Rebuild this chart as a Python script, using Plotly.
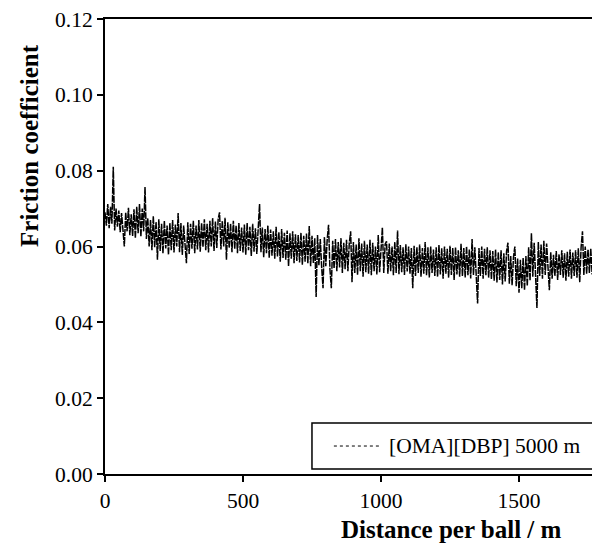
import plotly.graph_objects as go

# Sampling interval of the friction record (m)
step_m = 5

# Friction coefficient, in units of 1e-4, one value every 5 m
friction_e4 = [
    690, 655, 712, 648, 705, 660, 810, 642, 700, 652, 695, 638, 688, 645, 600, 690, 640, 702, 630, 685,
    628, 698, 622, 705, 635, 712, 626, 700, 640, 757, 620, 675, 600, 670, 590, 680, 598, 665, 565, 672,
    588, 660, 582, 668, 595, 655, 578, 662, 590, 670, 584, 658, 600, 688, 585, 662, 578, 655, 590, 556,
    664, 580, 660, 594, 668, 582, 655, 592, 670, 586, 662, 598, 672, 590, 660, 584, 668, 600, 675, 588,
    666, 596, 672, 690, 592, 668, 600, 676, 565, 664, 596, 660, 585, 668, 594, 655, 582, 662, 588, 650,
    584, 658, 578, 662, 590, 652, 575, 660, 586, 648, 580, 655, 712, 585, 650, 572, 646, 582, 655, 570,
    645, 576, 640, 568, 652, 574, 638, 560, 646, 570, 636, 565, 642, 548, 635, 568, 640, 556, 632, 562,
    630, 558, 636, 552, 628, 560, 634, 555, 654, 548, 628, 556, 622, 467, 630, 550, 620, 545, 490, 625,
    548, 618, 657, 540, 490, 615, 542, 620, 535, 612, 545, 622, 530, 610, 540, 618, 535, 608, 640, 506,
    612, 530, 605, 525, 622, 535, 608, 520, 615, 532, 605, 528, 618, 524, 610, 535, 600, 526, 630, 532,
    612, 650, 530, 606, 614, 528, 608, 535, 600, 524, 612, 530, 642, 527, 604, 532, 598, 525, 606, 534,
    600, 528, 596, 490, 602, 522, 598, 530, 605, 520, 596, 528, 612, 524, 598, 518, 600, 530, 592, 522,
    598, 520, 604, 526, 595, 515, 600, 528, 594, 518, 602, 525, 596, 512, 598, 526, 590, 520, 607, 522,
    596, 518, 600, 524, 592, 516, 620, 525, 598, 520, 450, 596, 522, 600, 515, 594, 524, 598, 518, 590,
    514, 588, 510, 592, 505, 585, 512, 590, 500, 582, 508, 588, 610, 502, 575, 498, 572, 600, 495, 568,
    478, 565, 490, 570, 485, 575, 496, 598, 510, 635, 520, 610, 515, 438, 612, 522, 605, 515, 615, 525,
    608, 530, 485, 585, 515, 578, 522, 588, 512, 580, 525, 590, 518, 582, 510, 586, 520, 592, 515, 584,
    522, 590, 518, 595, 506, 598, 640, 525, 600, 528, 592, 530, 595, 526,
]

distance_m = [i * step_m for i in range(len(friction_e4))]
friction = [v * 1e-4 for v in friction_e4]

series_name = "[OMA][DBP] 5000 m"
x_title = "Distance per ball / m"
y_title = "Friction coefficient"
x_ticks = [0, 500, 1000, 1500]
y_ticks = [0.00, 0.02, 0.04, 0.06, 0.08, 0.10, 0.12]

FONT = "Liberation Serif, Times New Roman, serif"

fig = go.Figure()
fig.add_trace(go.Scatter(
    x=distance_m, y=friction, mode="lines", name=series_name,
    line=dict(color="black", width=1.5, dash="7px,1px"),
    showlegend=False,
))

fig.update_layout(
    width=592, height=543,
    margin=dict(l=105, r=0, t=19, b=69),
    paper_bgcolor="white", plot_bgcolor="white",
    font=dict(family=FONT, size=21.5, color="black"),
    showlegend=False,
)
fig.update_xaxes(
    range=[0, 1764.5], tickvals=x_ticks, ticktext=[str(t) for t in x_ticks],
    showgrid=False, zeroline=False,
    showline=True, linecolor="black", linewidth=2, mirror=True,
    ticks="outside", ticklen=6, tickwidth=2, tickcolor="black",
)
fig.update_yaxes(
    range=[0, 0.12], tickvals=y_ticks, ticktext=[f"{t:.2f}" for t in y_ticks],
    showgrid=False, zeroline=False,
    showline=True, linecolor="black", linewidth=2, mirror=False,
    ticks="outside", ticklen=6, tickwidth=2, tickcolor="black",
)

# Legend box (drawn in paper coordinates so it can run off the right edge like the reference)
fig.add_shape(type="rect", xref="paper", yref="paper", x0=0.425, x1=1.05, y0=0.011, y1=0.112,
              line=dict(color="black", width=1.5), fillcolor="white", layer="above")
fig.add_shape(type="line", xref="paper", yref="paper", x0=0.470, x1=0.5626, y0=0.0615, y1=0.0615,
              line=dict(color="black", width=1, dash="dot"), layer="above")
fig.add_annotation(
    text=series_name, xref="paper", yref="paper", x=0.579, y=0.0615,
    xanchor="left", yanchor="middle", showarrow=False,
    font=dict(family=FONT, size=21.5, color="black"),
)

fig.add_annotation(
    text=x_title, xref="paper", yref="paper", x=0.7125, y=-0.122,
    xanchor="center", yanchor="middle", showarrow=False,
    font=dict(family=FONT, size=25, color="black", weight="bold"),
)
fig.add_annotation(
    text=y_title, xref="paper", yref="paper", x=-0.154, y=0.721,
    xanchor="center", yanchor="middle", showarrow=False, textangle=-90,
    font=dict(family=FONT, size=25, color="black", weight="bold"),
)

fig.write_html("out.html")
